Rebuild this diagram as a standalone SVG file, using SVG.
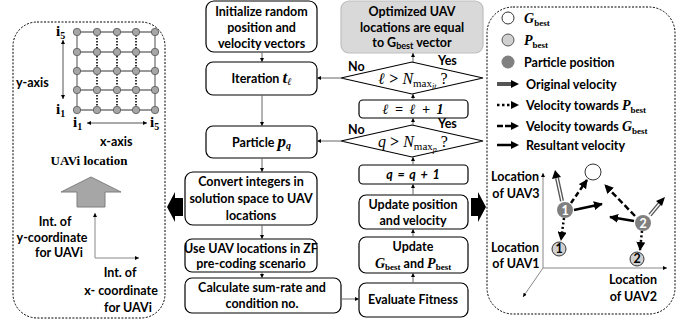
<svg xmlns="http://www.w3.org/2000/svg" width="683" height="324" viewBox="0 0 683 324">
<defs>
<style>
.box{fill:#fff;stroke:#000;stroke-width:1.2}
.t{font-family:Lato,"Open Sans",sans-serif;font-weight:bold;font-size:12.5px;fill:#000}
.m{font-family:"Liberation Serif","DejaVu Serif",serif;font-weight:bold;fill:#000}
.conn{stroke:#666;stroke-width:1;fill:none;marker-end:url(#ah)}
.ax{stroke:#888;stroke-width:1;fill:none;marker-end:url(#ah)}
.dash{stroke:#000;stroke-width:1;fill:none;stroke-dasharray:2,1.5}
.sa{stroke:#000;stroke-width:2.5;fill:none;marker-end:url(#big)}
.ov{stroke:#555;stroke-width:4;fill:none}
.ovw{stroke:#fff;stroke-width:1.3;fill:none}
</style>
<marker id="ah" viewBox="0 0 8 8" refX="8" refY="4" markerWidth="4" markerHeight="4" orient="auto-start-reverse" markerUnits="userSpaceOnUse"><path d="M0,0L8,4L0,8z" fill="#000"/></marker>
<marker id="big" viewBox="0 0 10 10" refX="9" refY="5" markerWidth="9" markerHeight="9" orient="auto" markerUnits="userSpaceOnUse"><path d="M0,0L10,5L0,10z" fill="#000"/></marker>
</defs>

<g id="left-panel">
<rect x="13" y="22" width="152" height="296" rx="24" class="dash"/>
<g stroke="#777" stroke-width="1.3">
<line x1="77" y1="32" x2="155" y2="32"/><line x1="77" y1="52" x2="155" y2="52"/><line x1="77" y1="71" x2="155" y2="71"/><line x1="77" y1="90" x2="155" y2="90"/><line x1="77" y1="110" x2="155" y2="110"/>
<line x1="77" y1="32" x2="77" y2="110"/><line x1="155" y1="32" x2="155" y2="110"/>
</g>
<g stroke="#000" stroke-width="1.6" stroke-dasharray="1.5,1.5">
<line x1="97" y1="32" x2="97" y2="110"/><line x1="117" y1="32" x2="117" y2="110"/><line x1="136" y1="32" x2="136" y2="110"/>
</g>
<g fill="#a6a6a6" stroke="#555" stroke-width="0.8">
<circle cx="77" cy="32" r="3.7"/><circle cx="97" cy="32" r="3.7"/><circle cx="117" cy="32" r="3.7"/><circle cx="136" cy="32" r="3.7"/><circle cx="155" cy="32" r="3.7"/>
<circle cx="77" cy="52" r="3.7"/><circle cx="97" cy="52" r="3.7"/><circle cx="117" cy="52" r="3.7"/><circle cx="136" cy="52" r="3.7"/><circle cx="155" cy="52" r="3.7"/>
<circle cx="77" cy="71" r="3.7"/><circle cx="97" cy="71" r="3.7"/><circle cx="117" cy="71" r="3.7"/><circle cx="136" cy="71" r="3.7"/><circle cx="155" cy="71" r="3.7"/>
<circle cx="77" cy="90" r="3.7"/><circle cx="97" cy="90" r="3.7"/><circle cx="117" cy="90" r="3.7"/><circle cx="136" cy="90" r="3.7"/><circle cx="155" cy="90" r="3.7"/>
<circle cx="77" cy="110" r="3.7"/><circle cx="97" cy="110" r="3.7"/><circle cx="117" cy="110" r="3.7"/><circle cx="136" cy="110" r="3.7"/><circle cx="155" cy="110" r="3.7"/>
</g>
<text class="m" x="56" y="36" font-size="15">i<tspan font-size="10" dy="3">5</tspan></text>
<text class="m" x="56" y="114" font-size="15">i<tspan font-size="10" dy="3">1</tspan></text>
<text class="m" x="73" y="127" font-size="15">i<tspan font-size="10" dy="3">1</tspan></text>
<text class="m" x="150" y="127" font-size="15">i<tspan font-size="10" dy="3">5</tspan></text>
<line x1="63" y1="40" x2="63" y2="99" stroke="#555" stroke-width="1" marker-start="url(#ah)" marker-end="url(#ah)"/>
<line x1="87" y1="123" x2="147" y2="123" stroke="#555" stroke-width="1" marker-start="url(#ah)" marker-end="url(#ah)"/>
<text class="t" x="16" y="87" font-size="12.5">y-axis</text>
<text class="t" x="100" y="146" font-size="12.5">x-axis</text>
<text class="m" x="89" y="165" font-size="13" text-anchor="middle">UAVi location</text>
<polygon points="91,177 121,192 105,192 105,207 77,207 77,192 61,192" fill="#a6a6a6" stroke="#7f7f7f" stroke-width="1"/>
<line x1="95" y1="258" x2="95" y2="213" class="ax"/>
<line x1="95" y1="258" x2="139" y2="258" class="ax"/>
<text class="t" text-anchor="middle"><tspan x="55" y="226">Int. of</tspan><tspan x="52" y="242">y-coordinate</tspan><tspan x="59" y="257">for UAVi</tspan></text>
<text class="t" text-anchor="middle"><tspan x="120" y="277">Int. of</tspan><tspan x="121" y="295">x- coordinate</tspan><tspan x="128" y="312">for UAVi</tspan></text>
</g>

<g id="arrow-left"><polygon points="167,207 175,192 175,198 183,198 183,216 175,216 175,222" fill="#000"/></g>
<g id="arrow-right"><polygon points="486,207 478,192 478,198 471,198 471,216 478,216 478,222" fill="#000"/></g>

<g id="init"><rect class="box" x="206" y="1" width="111" height="51" rx="8"/>
<text class="t" text-anchor="middle"><tspan x="261.5" y="16">Initialize random</tspan><tspan x="261.5" y="32">position and</tspan><tspan x="261.5" y="48">velocity vectors</tspan></text></g>
<g id="iteration"><rect class="box" x="206" y="62" width="111" height="33" rx="7"/>
<text class="t" x="261.5" y="83" text-anchor="middle">Iteration <tspan class="m" font-style="italic" font-size="17">t</tspan><tspan class="m" font-style="italic" font-size="10" dy="2">ℓ</tspan></text></g>
<g id="particle"><rect class="box" x="206" y="126" width="111" height="32" rx="7"/>
<text class="t" x="261.5" y="147" text-anchor="middle">Particle <tspan class="m" font-style="italic" font-size="17">p</tspan><tspan class="m" font-style="italic" font-size="10" dy="2">q</tspan></text></g>
<g id="convert"><rect class="box" x="185" y="172" width="132" height="53" rx="8"/>
<text class="t" text-anchor="middle"><tspan x="251" y="186">Convert integers in</tspan><tspan x="251" y="203">solution space to UAV</tspan><tspan x="251" y="220">locations</tspan></text></g>
<g id="use"><rect class="box" x="185" y="239" width="132" height="33" rx="7"/>
<text class="t" text-anchor="middle"><tspan x="251" y="253">Use UAV locations in ZF</tspan><tspan x="251" y="268">pre-coding scenario</tspan></text></g>
<g id="calc"><rect class="box" x="185" y="278" width="156" height="35" rx="7"/>
<text class="t" text-anchor="middle"><tspan x="262" y="292">Calculate sum-rate and</tspan><tspan x="262" y="308">condition no.</tspan></text></g>

<g id="optimized"><rect x="341" y="1" width="142" height="52" rx="8" fill="#d9d9d9" stroke="#bfbfbf" stroke-width="1.2"/>
<text class="t" text-anchor="middle"><tspan x="412" y="16">Optimized UAV</tspan><tspan x="412" y="32">locations are equal</tspan><tspan x="412" y="47">to G<tspan font-size="9" dy="2">best</tspan><tspan dy="-2"> vector</tspan></tspan></text></g>
<g id="dec-iter"><polygon class="box" points="341,78 412,62 483,78 412,94"/>
<text class="m" x="413" y="84" font-size="16" text-anchor="middle"><tspan font-style="italic">ℓ</tspan> &gt; <tspan font-style="italic" font-weight="normal">N</tspan><tspan font-size="11" font-weight="normal" dy="3">max</tspan><tspan font-size="8" font-style="italic" font-weight="normal" dy="2">it</tspan><tspan font-weight="normal" dy="-5"> ?</tspan></text></g>
<g id="l-inc"><rect class="box" x="359" y="100" width="109" height="18" rx="4"/>
<text class="m" x="413" y="114" font-size="14" font-style="italic" word-spacing="3" text-anchor="middle">ℓ = ℓ + 1</text></g>
<g id="dec-part"><polygon class="box" points="341,141 412,125 483,141 412,157"/>
<text class="m" x="413" y="147" font-size="16" text-anchor="middle"><tspan font-style="italic" font-weight="normal">q</tspan> &gt; <tspan font-style="italic" font-weight="normal">N</tspan><tspan font-size="11" font-weight="normal" dy="3">max</tspan><tspan font-size="8" font-style="italic" font-weight="normal" dy="2">p</tspan><tspan font-weight="normal" dy="-5"> ?</tspan></text></g>
<g id="q-inc"><rect class="box" x="359" y="165" width="109" height="19" rx="4"/>
<text class="t" x="413" y="179" font-style="italic" word-spacing="2" text-anchor="middle">q = q + 1</text></g>
<g id="update-pos"><rect class="box" x="359" y="195" width="109" height="34" rx="7"/>
<text class="t" text-anchor="middle"><tspan x="413" y="209">Update position</tspan><tspan x="413" y="225">and velocity</tspan></text></g>
<g id="update-best"><rect class="box" x="359" y="237" width="109" height="36" rx="7"/>
<text class="t" text-anchor="middle"><tspan x="413" y="251">Update</tspan><tspan x="413" y="268"><tspan class="m" font-style="italic" font-size="14">G</tspan><tspan class="m" font-size="9" dy="2">best</tspan><tspan dy="-2"> and </tspan><tspan class="m" font-style="italic" font-size="14">P</tspan><tspan class="m" font-size="9" dy="2">best</tspan></tspan></text></g>
<g id="evaluate"><rect class="box" x="359" y="283" width="109" height="34" rx="7"/>
<text class="t" x="413" y="304" text-anchor="middle">Evaluate Fitness</text></g>

<g id="connectors">
<line class="conn" x1="262" y1="52" x2="262" y2="62"/>
<line class="conn" x1="262" y1="95" x2="262" y2="126"/>
<line class="conn" x1="262" y1="158" x2="262" y2="172"/>
<line class="conn" x1="262" y1="225" x2="262" y2="239"/>
<line class="conn" x1="262" y1="272" x2="262" y2="278"/>
<line class="conn" x1="341" y1="299" x2="359" y2="299"/>
<line class="conn" x1="413" y1="283" x2="413" y2="273"/>
<line class="conn" x1="413" y1="237" x2="413" y2="229"/>
<line class="conn" x1="413" y1="195" x2="413" y2="184"/>
<line class="conn" x1="413" y1="165" x2="413" y2="157"/>
<line class="conn" x1="413" y1="125" x2="413" y2="118"/>
<line class="conn" x1="413" y1="100" x2="413" y2="94"/>
<line class="conn" x1="413" y1="62" x2="413" y2="53"/>
<line class="conn" x1="341" y1="78" x2="317" y2="78"/>
<line class="conn" x1="341" y1="141" x2="317" y2="141"/>
<text class="t" font-size="11" x="348" y="71">No</text>
<text class="t" font-size="11" x="438" y="65">Yes</text>
<text class="t" font-size="11" x="348" y="134">No</text>
<text class="t" font-size="11" x="438" y="128">Yes</text>
</g>

<g id="right-panel">
<rect x="487" y="7" width="188" height="307" rx="26" class="dash"/>
<circle cx="508" cy="18" r="6" fill="#fff" stroke="#333" stroke-width="1"/>
<text class="m" x="524" y="23" font-size="14"><tspan font-style="italic">G</tspan><tspan font-size="9" dy="3">best</tspan></text>
<circle cx="508" cy="40" r="6" fill="#d0d0d0" stroke="#555" stroke-width="1"/>
<text class="m" x="524" y="45" font-size="14"><tspan font-style="italic">P</tspan><tspan font-size="9" dy="3">best</tspan></text>
<circle cx="508" cy="62" r="6.5" fill="#808080"/>
<text class="t" x="524" y="67">Particle position</text>
<line class="ov" x1="497" y1="84" x2="511" y2="84"/>
<path d="M511,80L519,84L511,88z" fill="#000"/>
<text class="t" x="526" y="89">Original velocity</text>
<line x1="497" y1="105" x2="511" y2="105" stroke="#000" stroke-width="2.5" stroke-dasharray="2.5,2.5"/>
<path d="M511,101L519,105L511,109z" fill="#000"/>
<text class="t" x="526" y="110">Velocity towards <tspan class="m" font-style="italic" font-size="14">P</tspan><tspan class="m" font-size="9" dy="3">best</tspan></text>
<line x1="497" y1="126" x2="511" y2="126" stroke="#000" stroke-width="2.5" stroke-dasharray="6,2"/>
<path d="M511,122L519,126L511,130z" fill="#000"/>
<text class="t" x="526" y="131">Velocity towards <tspan class="m" font-style="italic" font-size="14">G</tspan><tspan class="m" font-size="9" dy="3">best</tspan></text>
<line x1="497" y1="145" x2="512" y2="145" stroke="#000" stroke-width="2.5"/>
<path d="M511,141L519,145L511,149z" fill="#000"/>
<text class="t" x="526" y="150">Resultant velocity</text>

<line class="ax" x1="543" y1="268" x2="543" y2="173"/>
<line class="ax" x1="543" y1="268" x2="667" y2="268"/>
<line class="ax" x1="543" y1="268" x2="523" y2="297"/>
<text class="t" font-size="12" text-anchor="middle"><tspan x="515" y="181">Location</tspan><tspan x="516" y="198">of UAV3</tspan></text>
<text class="t" font-size="12" text-anchor="middle"><tspan x="515" y="252">Location</tspan><tspan x="516" y="268">of UAV1</tspan></text>
<text class="t" font-size="12" text-anchor="end"><tspan x="657" y="284">Location</tspan><tspan x="657" y="301">of UAV2</tspan></text>

<circle cx="593" cy="172" r="8" fill="#fff" stroke="#333" stroke-width="1"/>
<line class="ov" x1="562" y1="201" x2="557" y2="178"/>
<line class="ovw" x1="562" y1="201" x2="557" y2="178"/>
<path d="M552,179L555,170L561,177z" fill="#000"/>
<line class="ov" x1="650" y1="215" x2="660" y2="203"/>
<line class="ovw" x1="650" y1="215" x2="660" y2="203"/>
<path d="M656,201L665,197L662,206z" fill="#000"/>
<line class="sa" x1="571" y1="203" x2="587" y2="180" stroke-dasharray="5,3"/>
<line class="sa" x1="574" y1="210" x2="602" y2="204"/>
<line class="sa" x1="564" y1="218" x2="561" y2="240" stroke-dasharray="2,2.5"/>
<line class="sa" x1="635" y1="216" x2="605" y2="185" stroke-dasharray="6,3"/>
<line class="sa" x1="634" y1="221" x2="610" y2="217"/>
<line class="sa" x1="642" y1="231" x2="640" y2="250" stroke-dasharray="2,2.5"/>
<circle cx="565" cy="210" r="8" fill="#808080"/>
<text class="t" x="565" y="214.5" font-size="11" text-anchor="middle" style="fill:#fff">1</text>
<circle cx="643" cy="223" r="8" fill="#808080"/>
<text class="t" x="643" y="227.5" font-size="11" text-anchor="middle" style="fill:#fff">2</text>
<circle cx="559" cy="249" r="7" fill="#d0d0d0" stroke="#333" stroke-width="1"/>
<text class="t" x="559" y="253" font-size="10.5" text-anchor="middle">1</text>
<circle cx="637" cy="259" r="7" fill="#d0d0d0" stroke="#333" stroke-width="1"/>
<text class="t" x="637" y="263" font-size="10.5" text-anchor="middle">2</text>
</g>
</svg>
